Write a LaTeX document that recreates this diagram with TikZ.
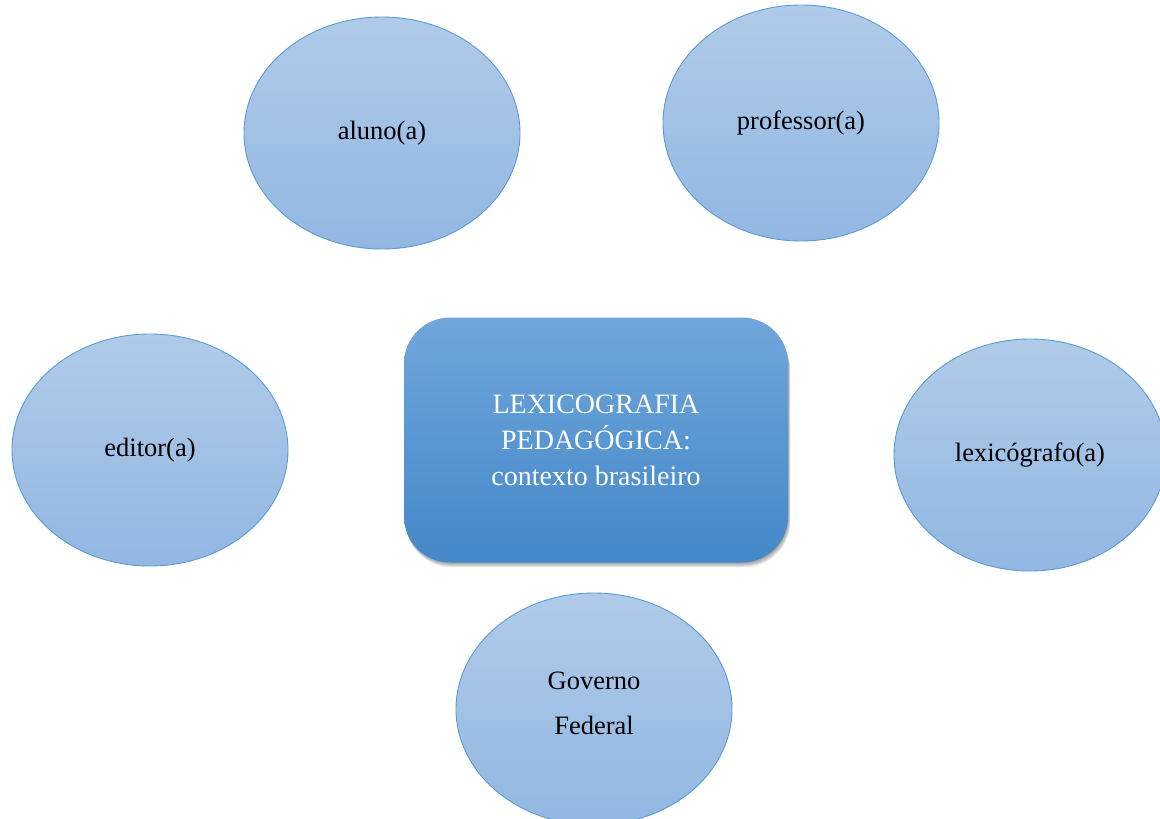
\documentclass[tikz,border=0pt]{standalone}
\usepackage{fontspec}
\setmainfont{Liberation Serif}
\usetikzlibrary{shapes.geometric}
\definecolor{elltop}{HTML}{B0CBE9}
\definecolor{ellbot}{HTML}{92B7E2}
\definecolor{ellline}{HTML}{5B9BD5}
\definecolor{boxtop}{HTML}{70A6DB}
\definecolor{boxbot}{HTML}{4388C9}
\tikzset{
  role/.style={ellipse, draw=ellline, line width=0.9pt, top color=elltop, bottom color=ellbot,
    minimum width=276pt, minimum height=232pt, inner sep=0pt, align=center,
    font=\fontsize{26.5}{45}\selectfont, text=black},
  core/.style={rounded corners=46pt, draw=none, top color=boxtop, bottom color=boxbot,
    minimum width=384pt, minimum height=245pt, align=center, text=white,
    font=\fontsize{28}{36}\selectfont},
  shade/.style={rounded corners=46pt, fill=black, opacity=0.07}
}
\begin{document}
\begin{tikzpicture}[x=1pt,y=-1pt]
\useasboundingbox (0,0) rectangle (1160,819);
\clip (0,0) rectangle (1160,819);
\fill[white] (0,0) rectangle (1160,819);
\node[role] (aluno) at (382,133) {aluno(a)};
\node[role, minimum height=236pt] (prof) at (801,123) {\raisebox{6pt}{professor(a)}};
\node[role] (editor) at (150,450) {editor(a)};
\node[role, minimum width=272pt] (lex) at (1030,455) {lexicógrafo(a)};
\node[role] (gov) at (594,709) {\raisebox{0pt}[0pt][0pt]{\begin{tabular}{@{}c@{}}Governo\\[-0.5pt]Federal\end{tabular}}};
\foreach \d in {1,2,3,4,5,6}{
  \fill[shade] (404+\d*0.3,318+\d*1.2) rectangle (788+\d*0.4,562+\d*0.9);
}
\node[core] (center) at (596,440) {LEXICOGRAFIA\\PEDAGÓGICA:\\contexto brasileiro};
\end{tikzpicture}
\end{document}
